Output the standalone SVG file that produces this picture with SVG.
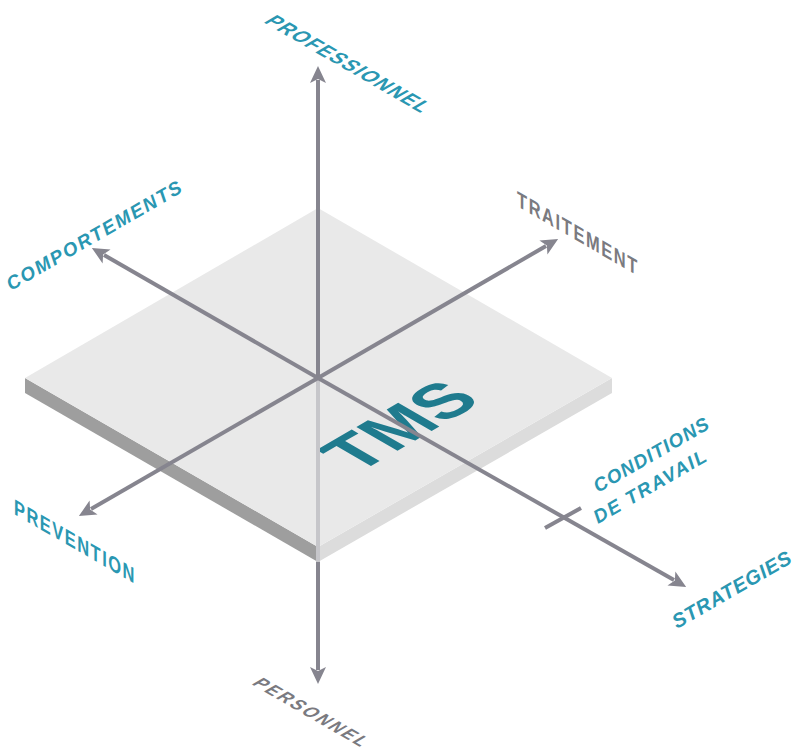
<svg xmlns="http://www.w3.org/2000/svg" width="799" height="749" viewBox="0 0 799 749">
  <defs>
    <marker id="arrow" markerUnits="userSpaceOnUse" markerWidth="20" markerHeight="20" viewBox="0 -10 20 20" refX="3" refY="0" orient="auto">
      <path d="M0,-8 L17,0 L0,8 L4,0 z" fill="#86858f"/>
    </marker>
    <style>
      .axis { stroke: #86858f; stroke-width: 4; fill: none; }
      .axis-hidden { stroke: #c6c6ca; stroke-width: 4; fill: none; }
      .lbl { font-family: "Liberation Sans", Arial, sans-serif; font-weight: bold; }
      .teal { fill: #2a97b2; }
      .gray { fill: #7a7a80; }
      .it { font-style: italic; }
    </style>
  </defs>
  <rect width="799" height="749" fill="#ffffff"/>

  <g id="plate">
    <polygon points="25,378 318,547 318,562 25,393" fill="#9e9e9e"/>
    <polygon points="318,547 612,378 612,393 318,562" fill="#dcdcdc"/>
    <polygon points="318,208 612,378 318,547 25,378" fill="#e9e9e9"/>
  </g>

  <g id="tms">
    <text class="lbl" transform="matrix(0.866,-0.5,0.866,0.5,357,474)" font-size="69" fill="#1f7b8e">TMS</text>
  </g>

  <g id="connectors">
    <line class="axis-hidden" x1="318" y1="378" x2="318" y2="562"/>
    <line class="axis" x1="318" y1="378" x2="318" y2="80" marker-end="url(#arrow)"/>
    <line class="axis" x1="318" y1="562" x2="318" y2="670" marker-end="url(#arrow)"/>
    <line class="axis" x1="318" y1="378" x2="104" y2="255" marker-end="url(#arrow)"/>
    <line class="axis" x1="318" y1="378" x2="546" y2="246" marker-end="url(#arrow)"/>
    <line class="axis" x1="318" y1="378" x2="91" y2="509" marker-end="url(#arrow)"/>
    <line class="axis" x1="318" y1="378" x2="674" y2="580" marker-end="url(#arrow)"/>
    <line class="axis" stroke-width="3" x1="545" y1="528" x2="581" y2="508"/>
  </g>

  <g id="label-professionnel">
    <text class="lbl teal" transform="translate(263,22) rotate(30) skewX(-30)" font-size="19" textLength="182" lengthAdjust="spacing">PROFESSIONNEL</text>
  </g>
  <g id="label-personnel">
    <text class="lbl gray" transform="translate(251,684) rotate(30) skewX(-30)" font-size="17" textLength="126" lengthAdjust="spacing">PERSONNEL</text>
  </g>
  <g id="label-traitement">
    <text class="lbl gray" transform="translate(517,206) rotate(30) skewX(30)" font-size="19" textLength="139" lengthAdjust="spacing">TRAITEMENT</text>
  </g>
  <g id="label-prevention">
    <text class="lbl teal" transform="translate(14,514) rotate(30) skewX(30)" font-size="19" textLength="139" lengthAdjust="spacing">PREVENTION</text>
  </g>
  <g id="label-comportements">
    <text class="lbl teal it" transform="translate(11,291) rotate(-30)" font-size="19" textLength="199" lengthAdjust="spacing">COMPORTEMENTS</text>
  </g>
  <g id="label-conditions">
    <text class="lbl teal it" transform="translate(598,493) rotate(-30)" font-size="19" textLength="130" lengthAdjust="spacing">CONDITIONS</text>
    <text class="lbl teal it" transform="translate(598,524) rotate(-30)" font-size="19" textLength="127" lengthAdjust="spacing">DE TRAVAIL</text>
  </g>
  <g id="label-strategies">
    <text class="lbl teal it" transform="translate(677,629) rotate(-30)" font-size="20" textLength="134" lengthAdjust="spacing">STRATEGIES</text>
  </g>
</svg>
